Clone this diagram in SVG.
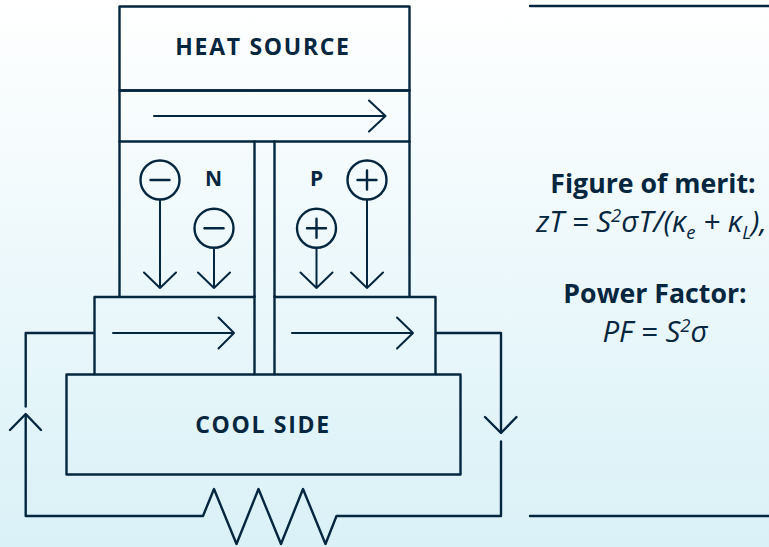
<svg xmlns="http://www.w3.org/2000/svg" width="769" height="547" viewBox="0 0 769 547">
<defs>
<linearGradient id="bg" x1="0" y1="0" x2="0" y2="1"><stop offset="0" stop-color="#ffffff"/><stop offset="1" stop-color="#d9f1f7"/></linearGradient>
<style>
.l{fill:none;stroke:#04263f;stroke-width:2.4;stroke-linecap:round;stroke-linejoin:round}
.t{fill:none;stroke:#04263f;stroke-width:2;stroke-linecap:round;stroke-linejoin:round}
.lab{font-family:"Open Sans",sans-serif;font-weight:700;fill:#04263f;text-anchor:middle}
.f{font-family:"Open Sans","Liberation Sans",sans-serif;fill:#04263f;text-anchor:middle}
.h{font-size:26.700px;font-weight:700}
.m{font-size:29.500px;font-style:italic}
</style>
</defs>
<rect width="769" height="547" fill="url(#bg)"/>
<g id="heat-source"><rect class="l" x="119.500" y="6.500" width="290" height="84"/><text class="lab" x="263" y="55" font-size="23" letter-spacing="1.700">HEAT SOURCE</text></g>
<g id="top-conductor"><rect class="l" x="119.500" y="90.500" width="290" height="51"/></g>
<g id="n-leg"><path class="l" d="M119.500 141.500V296M254.500 141.500V296"/><text class="lab" x="213.500" y="185.500" font-size="21">N</text>
<circle class="l" cx="160" cy="180" r="19.500"/><path class="l" d="M150.500 180H169.500"/><circle class="l" cx="214" cy="228.300" r="19.500"/><path class="l" d="M204.500 228.300H223.500"/></g>
<g id="p-leg"><path class="l" d="M274.500 141.500V296M409.500 141.500V296"/><text class="lab" x="316.500" y="185.500" font-size="21">P</text>
<circle class="l" cx="367" cy="180" r="19.500"/><path class="l" d="M357.500 180H376.500M367 170.500V189.500"/><circle class="l" cx="316.500" cy="228.300" r="19.500"/><path class="l" d="M307 228.300H326M316.500 218.800V237.800"/></g>
<g id="left-electrode"><path class="l" d="M254.500 297H94.500V374"/></g>
<g id="right-electrode"><path class="l" d="M274.500 297H435.500V374"/></g>
<g id="bridge"><path class="l" d="M254.500 296V374M274.500 296V374"/></g>
<g id="cool-side"><rect class="l" x="66.500" y="374.500" width="394" height="100"/><text class="lab" x="263" y="432.500" font-size="23" letter-spacing="1.700">COOL SIDE</text></g>
<g id="connectors">
<path class="t" d="M154 116H385.500M369 100.500L385.500 116L369 131.500"/>
<path class="t" d="M160 200V288M144 272.500L160 288L176 272.500"/>
<path class="t" d="M214 248V288M198 272.500L214 288L230 272.500"/>
<path class="t" d="M316.500 248V288M300.500 272.500L316.500 288L332.500 272.500"/>
<path class="t" d="M367 200V288M351 272.500L367 288L383 272.500"/>
<path class="t" d="M113 333H234M218.500 317.500L234 333L218.500 348.500"/>
<path class="t" d="M292 333H413M397 317.500L413 333L397 348.500"/>
<path class="l" d="M93 333H25.700V406.500M25.700 415V516H203L214 489L236.500 544L258.500 489L281 544L303 489L325.500 544L336.500 516H501V441.500M501 432.500V333H437"/>
<path class="l" d="M10 430L25.700 414L41 430"/>
<path class="l" d="M485 417L501 433L516.500 417"/>
<path class="l" d="M530 6H769M530 516H769"/>
</g>
<g id="text">
<text class="f h" x="653" y="193">Figure of merit:</text>
<text class="f m" x="651.500" y="232">zT = S<tspan font-size="18.500" dy="-10">2</tspan><tspan dy="10">σT/(κ</tspan><tspan font-size="18.500" dy="7">e</tspan><tspan dy="-7"> + κ</tspan><tspan font-size="18.500" dy="7">L</tspan><tspan dy="-7">),</tspan></text>
<text class="f h" x="655" y="303">Power Factor:</text>
<text class="f m" x="655" y="342">PF = S<tspan font-size="18.500" dy="-10">2</tspan><tspan dy="10">σ</tspan></text>
</g>
</svg>
